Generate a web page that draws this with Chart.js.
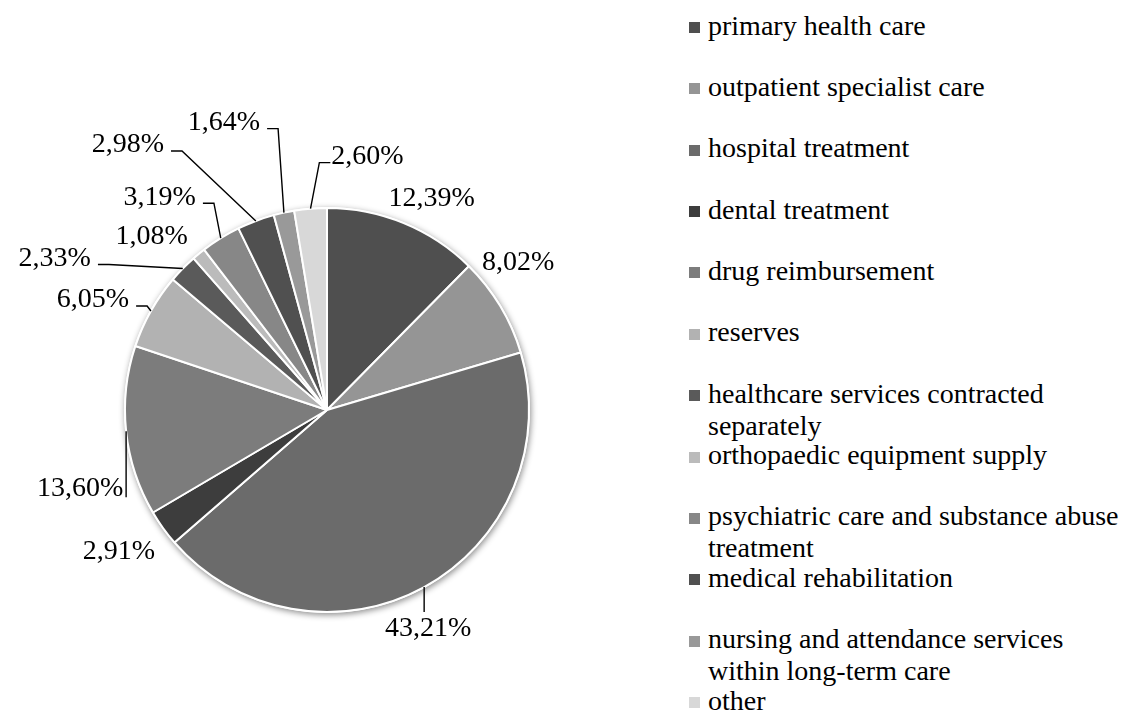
<!DOCTYPE html>
<html>
<head>
<meta charset="utf-8">
<script src="https://cdn.jsdelivr.net/npm/chart.js@4/dist/chart.umd.min.js"></script>
<style>
  html, body { margin: 0; padding: 0; background: #fff; overflow: hidden; }
  #wrap { position: relative; width: 1129px; height: 712px; }
  #pie { position: absolute; left: 0; top: 0; }
  #legend { position: absolute; left: 689px; top: 9.6px; margin: 0; padding: 0; list-style: none;
            font-size: 28px; color: #000; }
  #legend li { position: relative; height: 61.36px; }
  #legend .box { position: absolute; left: 0; top: 12.4px; width: 11px; height: 11px; }
  #legend .txt { display: block; margin-left: 19px; width: 430px; line-height: 32px; }
</style>
</head>
<body>
<div id="wrap">
  <canvas id="pie" width="680" height="712"></canvas>
  <ul id="legend"></ul>
</div>
<script>
const categories = [
  'primary health care',
  'outpatient specialist care',
  'hospital treatment',
  'dental treatment',
  'drug reimbursement',
  'reserves',
  'healthcare services contracted separately',
  'orthopaedic equipment supply',
  'psychiatric care and substance abuse treatment',
  'medical rehabilitation',
  'nursing and attendance services within long-term care',
  'other'
];
const shares = [12.39, 8.02, 43.21, 2.91, 13.60, 6.05, 2.33, 1.08, 3.19, 2.98, 1.64, 2.60];
const percentLabels = shares.map(v => v.toFixed(2).replace('.', ',') + '%');

const sliceColors = ['#4f4f4f', '#959595', '#6b6b6b', '#3d3d3d', '#7c7c7c', '#b2b2b2',
                     '#5a5a5a', '#bbbbbb', '#878787', '#505050', '#999999', '#d8d8d8'];

const serifFont = "'Liberation Serif', Tinos, 'Times New Roman', 'Nimbus Roman', 'DejaVu Serif', serif";

// label offsets from the outer edge midpoint of each slice, and how the leader line runs
const labelPlacement = [
  { dx: 28, dy: -24, leader: 'none' },
  { dx: 18, dy: -43, leader: 'none' },
  { dx: 4, dy: 42, leader: 'down' },
  { dx: -44, dy: 24, leader: 'none' },
  { dx: -46, dy: 57, leader: 'vertical' },
  { dx: -58, dy: -11, leader: 'left' },
  { dx: -128, dy: -10, leader: 'left' },
  { dx: -47, dy: -17, leader: 'none' },
  { dx: -61, dy: -41, leader: 'left' },
  { dx: -128, dy: -76, leader: 'left' },
  { dx: -60, dy: -90, leader: 'left' },
  { dx: 57, dy: -52, leader: 'right' }
];

const pieShadow = {
  id: 'pieShadow',
  beforeDatasetsDraw(chart) {
    const arc = chart.getDatasetMeta(0).data[0];
    if (!arc) return;
    const { x, y, outerRadius } = arc.getProps(['x', 'y', 'outerRadius'], true);
    const ctx = chart.ctx;
    ctx.save();
    ctx.shadowColor = 'rgba(0,0,0,0.45)';
    ctx.shadowBlur = 6;
    ctx.shadowOffsetX = 1;
    ctx.shadowOffsetY = 2;
    ctx.beginPath();
    ctx.arc(x, y, outerRadius + 1, 0, Math.PI * 2);
    ctx.fillStyle = '#fff';
    ctx.fill();
    ctx.restore();
  }
};

const pieLabels = {
  id: 'pieLabels',
  afterDatasetsDraw(chart) {
    const ctx = chart.ctx;
    const arcs = chart.getDatasetMeta(0).data;
    ctx.save();
    ctx.font = '28px ' + serifFont;
    ctx.fillStyle = '#000';
    ctx.strokeStyle = '#000';
    ctx.lineWidth = 1.4;
    ctx.textAlign = 'center';
    ctx.textBaseline = 'middle';
    arcs.forEach((arc, i) => {
      const p = arc.getProps(['x', 'y', 'startAngle', 'endAngle', 'outerRadius'], true);
      const mid = (p.startAngle + p.endAngle) / 2;
      const ex = p.x + Math.cos(mid) * p.outerRadius;
      const ey = p.y + Math.sin(mid) * p.outerRadius;
      const place = labelPlacement[i];
      const tx = ex + place.dx, ty = ey + place.dy;
      const text = percentLabels[i];
      const w = ctx.measureText(text).width;
      ctx.fillText(text, tx, ty);

      ctx.beginPath();
      if (place.leader === 'left') {
        const endX = tx + w / 2 + 7, endY = ty + 6;
        ctx.moveTo(ex, ey);
        ctx.lineTo(endX + 11, endY);
        ctx.lineTo(endX, endY);
      } else if (place.leader === 'right') {
        const endX = tx - w / 2 - 1, endY = ty + 6;
        ctx.moveTo(ex, ey);
        ctx.lineTo(endX - 11, endY);
        ctx.lineTo(endX, endY);
      } else if (place.leader === 'down') {
        ctx.moveTo(ex, ey);
        ctx.lineTo(ex, ty - 17);
      } else if (place.leader === 'vertical') {
        ctx.moveTo(ex, ey);
        ctx.lineTo(ex, ty + 9);
      }
      ctx.stroke();
    });
    ctx.restore();
  }
};

function drawChart() {
  new Chart(document.getElementById('pie'), {
    type: 'pie',
    data: {
      labels: categories,
      datasets: [{
        data: shares,
        backgroundColor: sliceColors,
        borderColor: '#ffffff',
        borderWidth: 2
      }]
    },
    options: {
      responsive: false,
      animation: false,
      layout: { padding: { left: 124, right: 150, top: 207, bottom: 99 } },
      plugins: {
        legend: { display: false },
        tooltip: { enabled: false }
      }
    },
    plugins: [pieShadow, pieLabels]
  });
}

// legend on the right, built from the same arrays
const legend = document.getElementById('legend');
legend.style.fontFamily = serifFont;
categories.forEach((name, i) => {
  const li = document.createElement('li');
  const box = document.createElement('span');
  box.className = 'box';
  box.style.background = sliceColors[i];
  const txt = document.createElement('span');
  txt.className = 'txt';
  txt.textContent = name;
  li.appendChild(box);
  li.appendChild(txt);
  legend.appendChild(li);
});

if (document.fonts && document.fonts.load) {
  document.fonts.load('28px ' + serifFont).then(drawChart, drawChart);
} else {
  drawChart();
}
</script>
</body>
</html>
